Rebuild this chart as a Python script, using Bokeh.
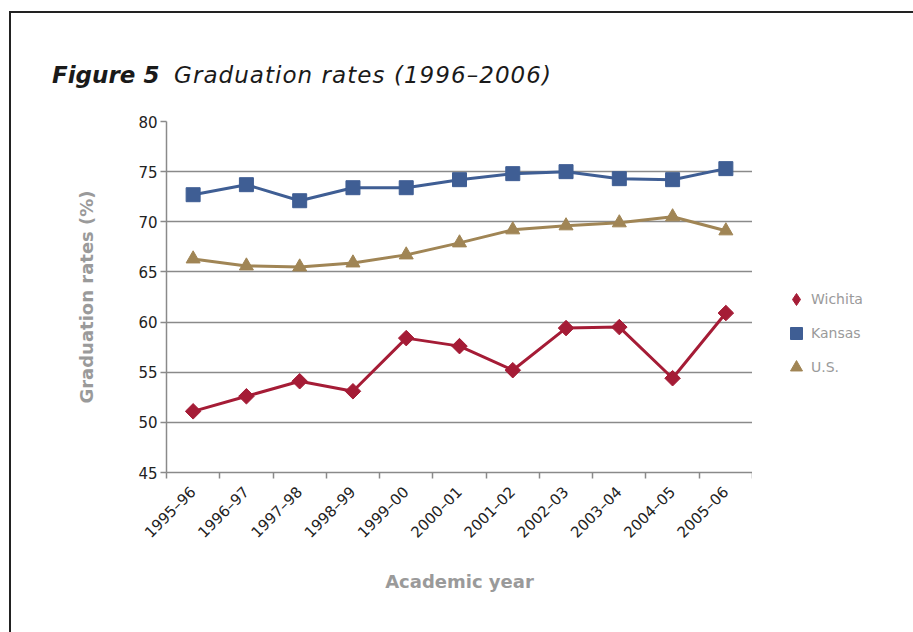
import math
from bokeh.plotting import figure
from bokeh.layouts import column, row
from bokeh.models import (FixedTicker, Range1d, Div)
from bokeh.embed import file_html
from bokeh.resources import INLINE

years = ["1995–96", "1996–97", "1997–98", "1998–99", "1999–00", "2000–01",
         "2001–02", "2002–03", "2003–04", "2004–05", "2005–06"]
wichita = [51.1, 52.6, 54.1, 53.1, 58.4, 57.6, 55.2, 59.4, 59.5, 54.4, 60.9]
kansas = [72.7, 73.7, 72.1, 73.4, 73.4, 74.2, 74.8, 75.0, 74.3, 74.2, 75.3]
us = [66.3, 65.6, 65.5, 65.9, 66.7, 67.9, 69.2, 69.6, 69.9, 70.5, 69.1]
y_ticks = [45, 50, 55, 60, 65, 70, 75, 80]

C_WICH = "#A51C36"
C_KAN = "#3F5E94"
C_US = "#A08555"
GRID = "#8a8a8a"
FONT = "DejaVu Sans"

xs = [i + 0.5 for i in range(len(years))]

title = Div(
    text=('<div style="font-family:\'DejaVu Sans\'; font-style:italic; font-size:23px; '
          'color:#1a1a1a; padding:46px 0 0 41px; white-space:nowrap;">'
          '<b>Figure 5</b>&nbsp; <span style="letter-spacing:1.05px">'
          'Graduation rates (1996–2006)</span></div>'),
    width=902, height=95, margin=0)

p = figure(width=741, height=524, output_backend="svg", toolbar_location=None,
           x_range=Range1d(0, len(years)), y_range=Range1d(45, 80), margin=0)
p.min_border_left = 155
p.min_border_right = 0
p.min_border_top = 13
p.min_border_bottom = 160
p.outline_line_color = None
p.background_fill_color = "white"
p.border_fill_color = "white"

# axes
p.xaxis.ticker = FixedTicker(ticks=xs, minor_ticks=list(range(len(years) + 1)))
p.xaxis.major_label_overrides = {x: lab for x, lab in zip(xs, years)}
p.xaxis.major_label_orientation = math.pi / 4
p.xaxis.major_tick_line_color = None
p.xaxis.minor_tick_line_color = GRID
p.xaxis.minor_tick_line_width = 1.5
p.xaxis.minor_tick_out = 6
p.xaxis.minor_tick_in = 0
p.xaxis.axis_line_color = GRID
p.xaxis.axis_line_width = 1.5
p.xaxis.major_label_text_font = FONT
p.xaxis.major_label_text_font_size = "15px"
p.xaxis.major_label_text_color = "#222222"
p.xaxis.major_label_standoff = 11
p.xaxis.axis_label = "Academic year"
p.xaxis.axis_label_text_font = FONT
p.xaxis.axis_label_text_font_style = "bold"
p.xaxis.axis_label_text_font_size = "18px"
p.xaxis.axis_label_text_color = "#9a9a9a"
p.xaxis.axis_label_standoff = 20

p.yaxis.ticker = FixedTicker(ticks=y_ticks)
p.yaxis.minor_tick_line_color = None
p.yaxis.major_tick_line_color = GRID
p.yaxis.major_tick_line_width = 1.5
p.yaxis.major_tick_out = 6
p.yaxis.major_tick_in = 0
p.yaxis.axis_line_color = GRID
p.yaxis.axis_line_width = 1.5
p.yaxis.major_label_text_font = FONT
p.yaxis.major_label_text_font_size = "15px"
p.yaxis.major_label_text_color = "#222222"
p.yaxis.major_label_standoff = 3
p.yaxis.axis_label = "Graduation rates (%)"
p.yaxis.axis_label_text_font = FONT
p.yaxis.axis_label_text_font_style = "bold"
p.yaxis.axis_label_text_font_size = "18px"
p.yaxis.axis_label_text_color = "#9a9a9a"
p.yaxis.axis_label_standoff = 38

p.xgrid.grid_line_color = None
p.ygrid.ticker = FixedTicker(ticks=y_ticks)
p.ygrid.grid_line_color = GRID
p.ygrid.grid_line_width = 1.5

# legend panel (separate figure so the legend is not clipped by the main frame);
# its ranges are 0..1 so the series' own points stay out of view there
pl = figure(width=161, height=524, output_backend="svg", toolbar_location=None,
            x_axis_location=None, y_axis_location=None, margin=0,
            x_range=Range1d(0, 1), y_range=Range1d(0, 1))
pl.min_border = 0
pl.outline_line_color = None
pl.grid.visible = False
pl.border_fill_color = "white"
pl.background_fill_color = "white"

series = [("Wichita", wichita, C_WICH, "square", 11, math.pi / 4, "diamond"),
          ("Kansas", kansas, C_KAN, "square", 14, 0, "square"),
          ("U.S.", us, C_US, "triangle", 14, 0, "triangle")]
for name, vals, col, marker, size, ang, lmarker in series:
    p.line(xs, vals, line_color=col, line_width=3)
    p.scatter(xs, vals, marker=marker, size=size, angle=ang,
              fill_color=col, line_color=col)
    pl.scatter(xs, vals, marker=lmarker, size=size,
               fill_color=col, line_color=col, legend_label=name)

lg = pl.legend[0]
lg.location = (19, 80)
lg.border_line_alpha = 0
lg.background_fill_alpha = 0
lg.label_text_font = FONT
lg.label_text_font_size = "14px"
lg.label_text_color = "#9a9a9a"
lg.glyph_width = 30
lg.glyph_height = 30
lg.label_height = 20
lg.spacing = 4
lg.padding = 10
lg.margin = 0
lg.label_standoff = -4

root = column(title, row(p, pl, spacing=0), spacing=0,
              styles={"margin-left": "9px", "margin-top": "11px",
                      "border-left": "2px solid #222222",
                      "border-top": "2px solid #222222",
                      "background-color": "white"})

open("out.html", "w").write(file_html(root, INLINE))
